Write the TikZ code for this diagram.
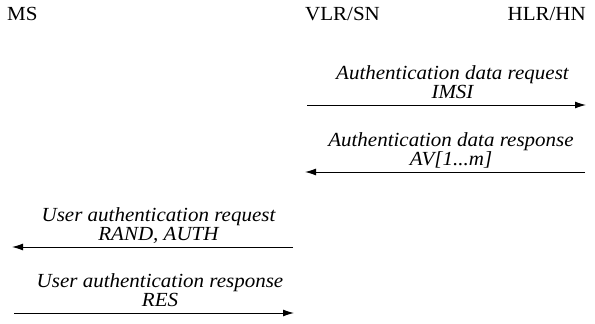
\documentclass[tikz,border=0pt]{standalone}
\usepackage{fontspec}
\setmainfont[FakeStretch=1.05]{Liberation Serif}
\usetikzlibrary{arrows.meta}

\tikzset{
  entity/.style={font=\fontsize{20}{20}\selectfont, inner sep=0pt},
  msg/.style={font=\fontsize{20}{19.5}\selectfont\itshape, align=center,
              inner sep=0pt, text depth=0pt, anchor=south, yshift=6pt, xshift=6pt},
  flow/.style={line width=1pt, -{Latex[length=11pt,width=7pt]}}
}

\begin{document}
\begin{tikzpicture}[x=1pt,y=-1pt]
  \useasboundingbox (0,0) rectangle (595,324);

  % entities
  \node[entity, anchor=base west] (ms)  at (7,20)   {MS};
  \node[entity, anchor=base west] (vlr) at (305,20) {VLR/SN};
  \node[entity, anchor=base east] (hlr) at (586,20) {HLR/HN};

  % message end points
  \coordinate (v1) at (307,105); \coordinate (h1) at (586,105);
  \coordinate (h2) at (585,172); \coordinate (v2) at (305,172);
  \coordinate (v3) at (293,247); \coordinate (m3) at (12,247);
  \coordinate (m4) at (14,313);  \coordinate (v4) at (294,313);

  % messages
  \draw[flow] (v1) -- (h1) node[midway, msg] {Authentication data request\\IMSI};
  \draw[flow] (h2) -- (v2) node[midway, msg] {Authentication data response\\AV[1...m]};
  \draw[flow] (v3) -- (m3) node[midway, msg] {User authentication request\\RAND, AUTH};
  \draw[flow] (m4) -- (v4) node[midway, msg] {User authentication response\\RES};
\end{tikzpicture}
\end{document}
